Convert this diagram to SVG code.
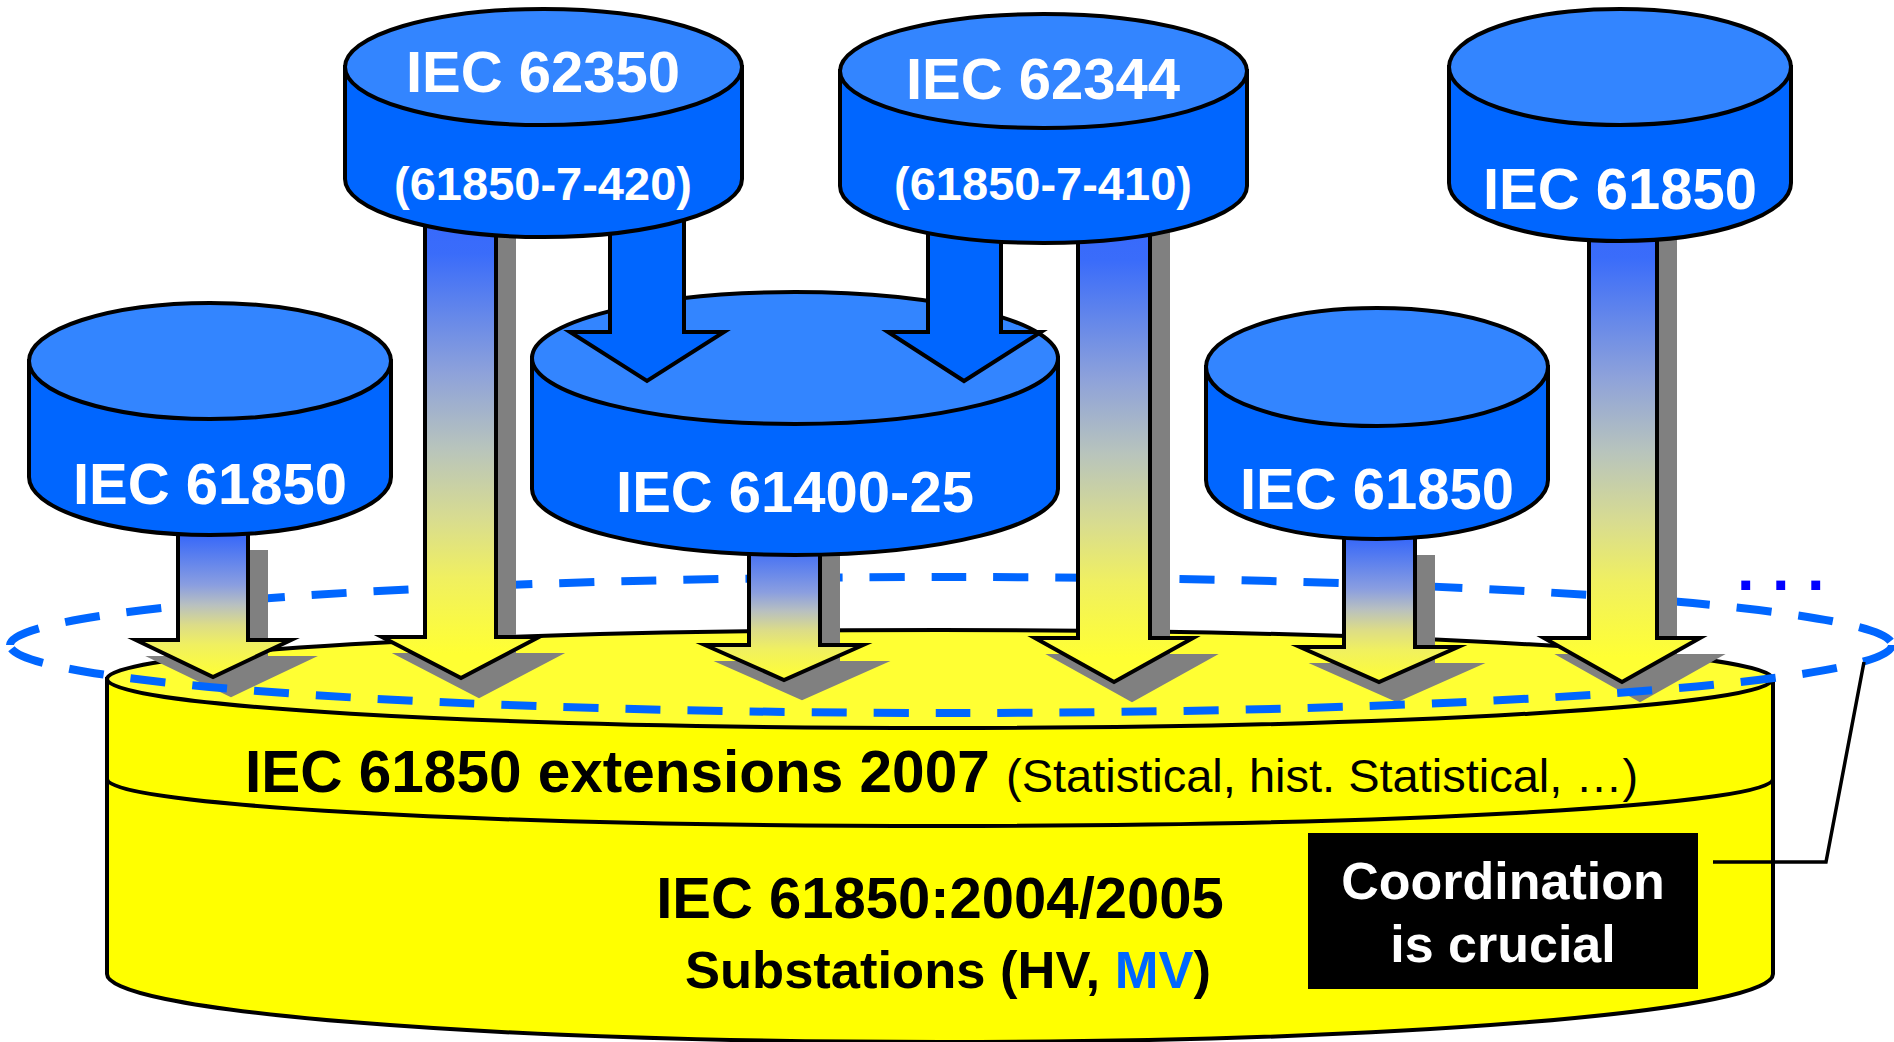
<svg xmlns="http://www.w3.org/2000/svg" width="1894" height="1042" viewBox="0 0 1894 1042">
  <defs>
    <linearGradient id="gradLong" x1="0" y1="0" x2="0" y2="1">
      <stop offset="0" stop-color="#3366ff"/>
      <stop offset="0.15" stop-color="#3a6cfa"/>
      <stop offset="0.39" stop-color="#8ea2da"/>
      <stop offset="0.54" stop-color="#b8c4bc"/>
      <stop offset="0.68" stop-color="#d8dc90"/>
      <stop offset="0.8" stop-color="#f0f060"/>
      <stop offset="0.95" stop-color="#ffff33"/>
    </linearGradient>
    <linearGradient id="gradShort" x1="0" y1="0" x2="0" y2="1">
      <stop offset="0" stop-color="#3366ff"/>
      <stop offset="0.3" stop-color="#3a6af8"/>
      <stop offset="0.54" stop-color="#8a9ee0"/>
      <stop offset="0.64" stop-color="#b8c0c0"/>
      <stop offset="0.74" stop-color="#dcdc88"/>
      <stop offset="0.84" stop-color="#f0f060"/>
      <stop offset="1" stop-color="#ffff33"/>
    </linearGradient>
    <style>
      .outline { stroke: #000; stroke-width: 4; stroke-linejoin: miter; stroke-miterlimit: 10; }
      .cylBody { fill: #0066ff; }
      .cylTop { fill: #3385ff; }
      .shadow { fill: #808080; stroke: #808080; stroke-width: 4; stroke-linejoin: miter; stroke-miterlimit: 10; }
      .arrowLong { fill: url(#gradLong); }
      .arrowShort { fill: url(#gradShort); }
      .arrowBlue { fill: #0066ff; }
      .dash { fill: none; stroke: #0066ff; stroke-width: 8; stroke-dasharray: 35 27; }
      .lbl { font-family: "Liberation Sans", Arial, sans-serif; font-weight: bold; fill: #fff; text-anchor: middle; }
      .big { font-size: 58px; }
      .sub { font-size: 47px; }
      .dark { font-family: "Liberation Sans", Arial, sans-serif; fill: #000; }
    </style>
  </defs>

  <rect width="1894" height="1042" fill="#fff"/>

  <!-- yellow base cylinder -->
  <g id="base">
    <path class="outline" fill="#ffff00" d="M107,679 L107,974 A833,68 0 0 0 1773,974 L1773,679 Z"/>
    <ellipse class="outline" cx="940" cy="679" rx="833" ry="49" fill="#ffff33"/>
    <path fill="none" stroke="#000" stroke-width="4" d="M107,779 A833,47 0 0 0 1773,779"/>
  </g>

  <!-- back half of the dashed grouping ring -->
  <path id="ring-back" class="dash" d="M10,645 A941,68 0 0 1 1892,645"/>

  <g id="connectors">
    <!-- drop shadows -->
    <polygon class="shadow" points="196,552 266,552 266,658 309,658 231,695 154,658 196,658"/>
    <polygon class="shadow" points="443,200 514,200 514,655 557,655 479,696 400,655 443,655"/>
    <polygon class="shadow" points="767,557 838,557 838,663 881,663 802,698 723,663 767,663"/>
    <polygon class="shadow" points="1096,200 1168,200 1168,656 1211,656 1132,700 1053,656 1096,656"/>
    <polygon class="shadow" points="1362,557 1433,557 1433,665 1476,665 1397,700 1318,665 1362,665"/>
    <polygon class="shadow" points="1607,200 1675,200 1675,656 1718,656 1640,700 1562,656 1607,656"/>
    <!-- arrows into the base -->
    <polygon class="outline arrowShort" points="178,477 248,477 248,640 291,640 213,677 136,640 178,640"/>
    <polygon class="outline arrowLong" points="425,179 496,179 496,637 539,637 461,678 382,637 425,637"/>
    <polygon class="outline arrowShort" points="749,489 820,489 820,645 863,645 784,680 705,645 749,645"/>
    <polygon class="outline arrowLong" points="1078,186 1150,186 1150,638 1193,638 1114,682 1035,638 1078,638"/>
    <polygon class="outline arrowShort" points="1344,480 1415,480 1415,647 1458,647 1379,682 1300,647 1344,647"/>
    <polygon class="outline arrowLong" points="1589,183 1657,183 1657,638 1700,638 1622,682 1544,638 1589,638"/>
  </g>

  <!-- lower row of standards -->
  <g id="iec61850-left">
    <path class="outline cylBody" d="M29,361 L29,477 A181,58 0 0 0 391,477 L391,361 Z"/>
    <ellipse class="outline cylTop" cx="210" cy="361" rx="181" ry="58"/>
    <text class="lbl big" x="210" y="504">IEC 61850</text>
  </g>
  <g id="iec61400-25">
    <path class="outline cylBody" d="M532,358 L532,489 A263,66 0 0 0 1058,489 L1058,358 Z"/>
    <ellipse class="outline cylTop" cx="795" cy="358" rx="263" ry="66"/>
    <text class="lbl big" x="795" y="512">IEC 61400-25</text>
  </g>
  <g id="iec61850-mid">
    <path class="outline cylBody" d="M1206,367 L1206,480 A171,59 0 0 0 1548,480 L1548,367 Z"/>
    <ellipse class="outline cylTop" cx="1377" cy="367" rx="171" ry="59"/>
    <text class="lbl big" x="1377" y="509">IEC 61850</text>
  </g>

  <!-- blue arrows feeding IEC 61400-25 -->
  <g id="connectors-feed">
    <polygon class="outline arrowBlue" points="610,179 684,179 684,332 724,332 647,381 570,332 610,332"/>
    <polygon class="outline arrowBlue" points="928,186 1001,186 1001,332 1041,332 964,381 888,332 928,332"/>
  </g>

  <!-- upper row of standards -->
  <g id="iec62350">
    <path class="outline cylBody" d="M345,67 L345,179 A198.5,58 0 0 0 742,179 L742,67 Z"/>
    <ellipse class="outline cylTop" cx="543.5" cy="67" rx="198.5" ry="58"/>
    <text class="lbl big" x="543" y="92">IEC 62350</text>
    <text class="lbl sub" x="543" y="200">(61850-7-420)</text>
  </g>
  <g id="iec62344">
    <path class="outline cylBody" d="M840,71 L840,186 A203.5,57 0 0 0 1247,186 L1247,71 Z"/>
    <ellipse class="outline cylTop" cx="1043.5" cy="71" rx="203.5" ry="57"/>
    <text class="lbl big" x="1043" y="99">IEC 62344</text>
    <text class="lbl sub" x="1043" y="200">(61850-7-410)</text>
  </g>
  <g id="iec61850-right">
    <path class="outline cylBody" d="M1449,67 L1449,183 A171,58 0 0 0 1791,183 L1791,67 Z"/>
    <ellipse class="outline cylTop" cx="1620" cy="67" rx="171" ry="58"/>
    <text class="lbl big" x="1620" y="209">IEC 61850</text>
  </g>

  <!-- front half of the dashed grouping ring -->
  <path id="ring-front" class="dash" d="M1892,645 A941,68 0 0 1 10,645"/>
  <text id="more" x="1737" y="590" font-family="Liberation Sans, Arial, sans-serif" font-weight="bold" font-size="63" fill="#0000ff">. . .</text>

  <!-- base labels -->
  <g id="base-labels">
    <text class="dark" x="245" y="792" font-size="58.5" font-weight="bold">IEC 61850 extensions 2007</text>
    <text class="dark" x="1006" y="792" font-size="47">(Statistical, hist. Statistical, …)</text>
    <text class="dark" x="940" y="918" font-size="58" font-weight="bold" text-anchor="middle">IEC 61850:2004/2005</text>
    <text class="dark" x="948" y="988" font-size="52.5" font-weight="bold" text-anchor="middle">Substations (HV, <tspan fill="#0066ff">MV</tspan>)</text>
  </g>

  <!-- callout -->
  <g id="coordination">
    <rect x="1308" y="833" width="390" height="156" fill="#000"/>
    <text class="lbl" font-size="52" x="1503" y="899">Coordination</text>
    <text class="lbl" font-size="52" x="1503" y="962">is crucial</text>
  </g>
  <g id="connectors-callout">
    <polyline points="1713,862 1826,862 1864,662" fill="none" stroke="#000" stroke-width="3.5"/>
  </g>
</svg>
